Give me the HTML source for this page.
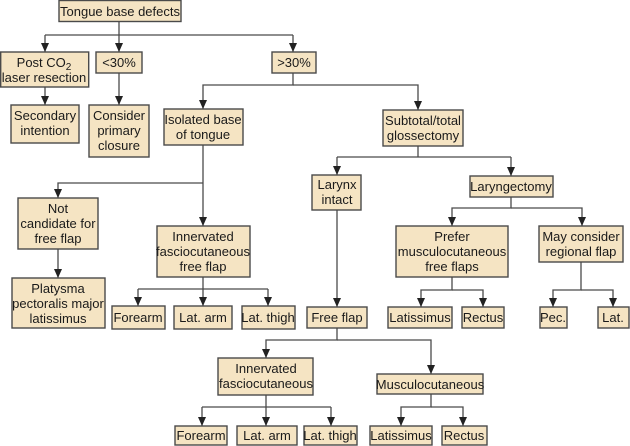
<!DOCTYPE html>
<html><head><meta charset="utf-8"><style>
html,body{margin:0;padding:0;background:#fff;}
svg{display:block;}
text{font-family:"Liberation Sans",Arial,sans-serif;font-size:13px;fill:#1a1a1a;text-anchor:middle;}
rect{fill:#f5e4c3;stroke:#4a4a4a;stroke-width:1.4;}
path.l{fill:none;stroke:#4a4a4a;stroke-width:1.3;}
polygon{fill:#222;stroke:none;}
</style></head><body>
<svg width="630" height="446" viewBox="0 0 630 446" xmlns="http://www.w3.org/2000/svg">
<g>
<path class="l" d="M119,22 V52"/>
<path class="l" d="M45,35 H293"/>
<path class="l" d="M45,35 V52"/>
<path class="l" d="M293,35 V52"/>
<path class="l" d="M45,87 V105"/>
<path class="l" d="M119,73 V105"/>
<path class="l" d="M293,73 V85 H203 V109"/>
<path class="l" d="M293,85 H418 V110"/>
<path class="l" d="M203,145 V226"/>
<path class="l" d="M203,183 H58 V198"/>
<path class="l" d="M58,249 V278"/>
<path class="l" d="M203,277 V306"/>
<path class="l" d="M138,289 H268"/>
<path class="l" d="M138,289 V306"/>
<path class="l" d="M268,289 V306"/>
<path class="l" d="M418,146 V157"/>
<path class="l" d="M337,157 H511"/>
<path class="l" d="M337,157 V175"/>
<path class="l" d="M511,157 V176"/>
<path class="l" d="M337,210 V307"/>
<path class="l" d="M511,197 V208 H452 V226"/>
<path class="l" d="M511,208 H582 V226"/>
<path class="l" d="M452,277 V290 H421 V307"/>
<path class="l" d="M452,290 H483 V307"/>
<path class="l" d="M581,262 V290 H553 V307"/>
<path class="l" d="M581,290 H613 V307"/>
<path class="l" d="M337,328 V340 H266 V358"/>
<path class="l" d="M337,340 H431 V374"/>
<path class="l" d="M266,395 V426"/>
<path class="l" d="M202,407 H331"/>
<path class="l" d="M202,407 V426"/>
<path class="l" d="M331,407 V426"/>
<path class="l" d="M431,394 V407 H401 V426"/>
<path class="l" d="M431,407 H463 V426"/>
</g>
<g>
<polygon points="115,43 123,43 119,52"/>
<polygon points="41,43 49,43 45,52"/>
<polygon points="289,43 297,43 293,52"/>
<polygon points="41,96 49,96 45,105"/>
<polygon points="115,96 123,96 119,105"/>
<polygon points="199,100 207,100 203,109"/>
<polygon points="414,101 422,101 418,110"/>
<polygon points="199,217 207,217 203,226"/>
<polygon points="54,189 62,189 58,198"/>
<polygon points="54,269 62,269 58,278"/>
<polygon points="199,297 207,297 203,306"/>
<polygon points="134,297 142,297 138,306"/>
<polygon points="264,297 272,297 268,306"/>
<polygon points="333,166 341,166 337,175"/>
<polygon points="507,167 515,167 511,176"/>
<polygon points="333,298 341,298 337,307"/>
<polygon points="448,217 456,217 452,226"/>
<polygon points="578,217 586,217 582,226"/>
<polygon points="417,298 425,298 421,307"/>
<polygon points="479,298 487,298 483,307"/>
<polygon points="549,298 557,298 553,307"/>
<polygon points="609,298 617,298 613,307"/>
<polygon points="262,349 270,349 266,358"/>
<polygon points="427,365 435,365 431,374"/>
<polygon points="262,417 270,417 266,426"/>
<polygon points="198,417 206,417 202,426"/>
<polygon points="327,417 335,417 331,426"/>
<polygon points="397,417 405,417 401,426"/>
<polygon points="459,417 467,417 463,426"/>
</g>
<rect x="59" y="0.5" width="122" height="21"/><text x="120" y="16">Tongue base defects</text>
<rect x="0.7" y="52" width="88" height="35"/><text x="44" y="67">Post CO<tspan font-size="10" dy="3">2</tspan></text><text x="44" y="82">laser resection</text>
<rect x="96" y="52" width="46" height="21"/><text x="119" y="67">&lt;30%</text>
<rect x="272" y="52" width="44" height="21"/><text x="294" y="67">&gt;30%</text>
<rect x="11" y="105" width="68" height="38"/><text x="45" y="120">Secondary</text><text x="45" y="135">intention</text>
<rect x="89" y="105" width="60" height="52"/><text x="119" y="120">Consider</text><text x="119" y="135">primary</text><text x="119" y="150">closure</text>
<rect x="164" y="109" width="79" height="36"/><text x="203" y="124">Isolated base</text><text x="203" y="139">of tongue</text>
<rect x="383" y="110" width="80" height="36"/><text x="423" y="125">Subtotal/total</text><text x="423" y="140">glossectomy</text>
<rect x="18" y="198" width="80" height="51"/><text x="58" y="213">Not</text><text x="58" y="228">candidate for</text><text x="58" y="243">free flap</text>
<rect x="312" y="175" width="49" height="35"/><text x="337" y="189">Larynx</text><text x="337" y="204">intact</text>
<rect x="470" y="176" width="83" height="21"/><text x="511" y="191">Laryngectomy</text>
<rect x="157" y="226" width="93" height="51"/><text x="203" y="241">Innervated</text><text x="203" y="256">fasciocutaneous</text><text x="203" y="271">free flap</text>
<rect x="396" y="226" width="112" height="51"/><text x="452" y="241">Prefer</text><text x="452" y="256">musculocutaneous</text><text x="452" y="271">free flaps</text>
<rect x="539" y="226" width="84" height="36"/><text x="581" y="241">May consider</text><text x="581" y="256">regional flap</text>
<rect x="12" y="278" width="93" height="50"/><text x="58" y="293">Platysma</text><text x="58" y="308">pectoralis major</text><text x="58" y="323">latissimus</text>
<rect x="112" y="306" width="53" height="23"/><text x="138" y="322">Forearm</text>
<rect x="174" y="306" width="58" height="23"/><text x="203" y="322">Lat. arm</text>
<rect x="242" y="306" width="53" height="23"/><text x="268" y="322">Lat. thigh</text>
<rect x="307" y="307" width="60" height="21"/><text x="337" y="322">Free flap</text>
<rect x="388" y="307" width="64" height="21"/><text x="420" y="322">Latissimus</text>
<rect x="462" y="307" width="42" height="21"/><text x="483" y="322">Rectus</text>
<rect x="540" y="307" width="27" height="21"/><text x="553" y="322">Pec.</text>
<rect x="598" y="307" width="31" height="21"/><text x="613" y="322">Lat.</text>
<rect x="218" y="358" width="95" height="37"/><text x="266" y="373">Innervated</text><text x="266" y="388">fasciocutaneous</text>
<rect x="377" y="374" width="106" height="20"/><text x="430" y="389">Musculocutaneous</text>
<rect x="175" y="426" width="52" height="19"/><text x="201" y="440">Forearm</text>
<rect x="237" y="426" width="60" height="19"/><text x="267" y="440">Lat. arm</text>
<rect x="304" y="426" width="53" height="19"/><text x="330" y="440">Lat. thigh</text>
<rect x="370" y="426" width="62" height="19"/><text x="401" y="440">Latissimus</text>
<rect x="442" y="426" width="45" height="19"/><text x="464" y="440">Rectus</text>
</svg>
</body></html>
